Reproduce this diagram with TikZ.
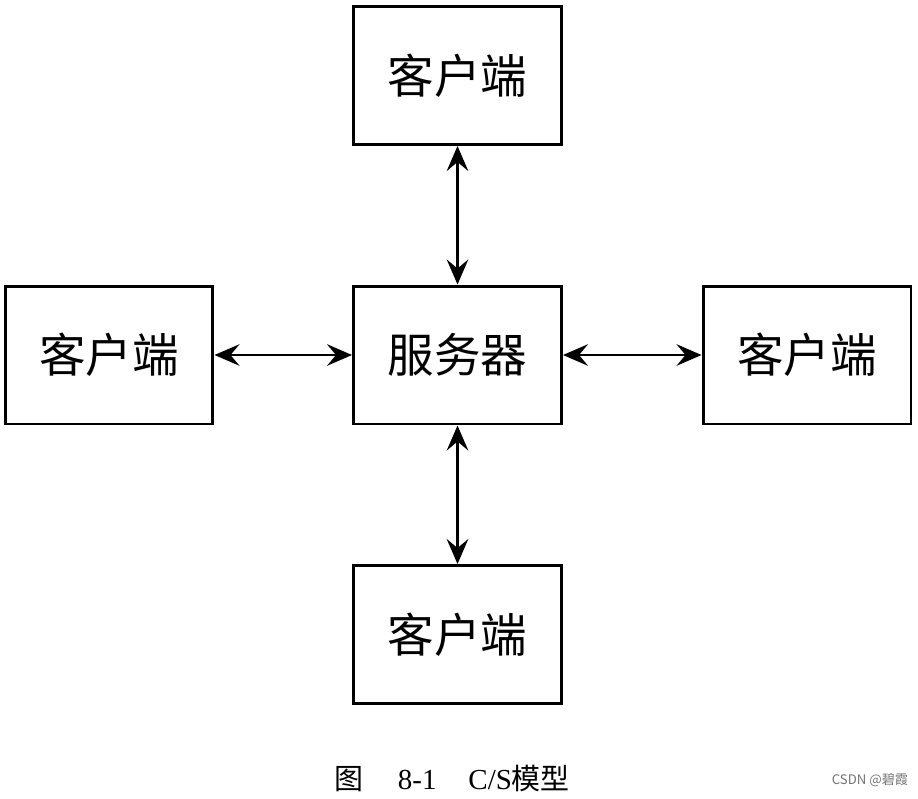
\documentclass[tikz,border=0pt]{standalone}
\usepackage{fontspec}
\setmainfont{Liberation Serif}
\newfontfamily\cjk{Noto Sans CJK SC}
\usetikzlibrary{arrows.meta}
\begin{document}
\begin{tikzpicture}[
            x=0.02cm, y=-0.02cm,
            box/.style={draw=black, line width=1.7pt, fill=white,
                    text=black, font=\cjk\fontsize{26.5}{30}\selectfont,
                    minimum width=4.16cm, minimum height=2.76cm,
                    align=center, inner sep=0pt},
            link/.style={line width=1.5pt,
                    {Stealth[length=5mm, width=4.3mm, inset=1.8mm]}-{Stealth[length=5mm, width=4.3mm, inset=1.8mm]}}
        ]
        \useasboundingbox (0,0) rectangle (918,798);
        % boxes
        \node[box] (srv) at (457.5, 355)   {服务器};
        \node[box] (up)  at (457.5, 75.5)  {客户端};
        \node[box] (lft) at (109, 355)     {客户端};
        \node[box] (rgt) at (807, 355)     {客户端};
        \node[box] (dwn) at (457.5, 634.5) {客户端};

        \draw[link] (up) -- (srv);
        \draw[link] (lft) -- (srv);
        \draw[link] (srv) -- (rgt);
        \draw[link] (srv) -- (dwn);

        % caption
        \node[font=\fontsize{16.5}{19}\selectfont] (cap) at (452, 778)
        {{\cjk 图}\hspace{1.2em}8-1\hspace{1.1em}C/S{\cjk 模型}};
        \node[font=\cjk\fontsize{7.5}{9}\selectfont, text=black!55] (mark) at (870, 780)
        {CSDN @碧霞};
    \end{tikzpicture}
\end{document}
